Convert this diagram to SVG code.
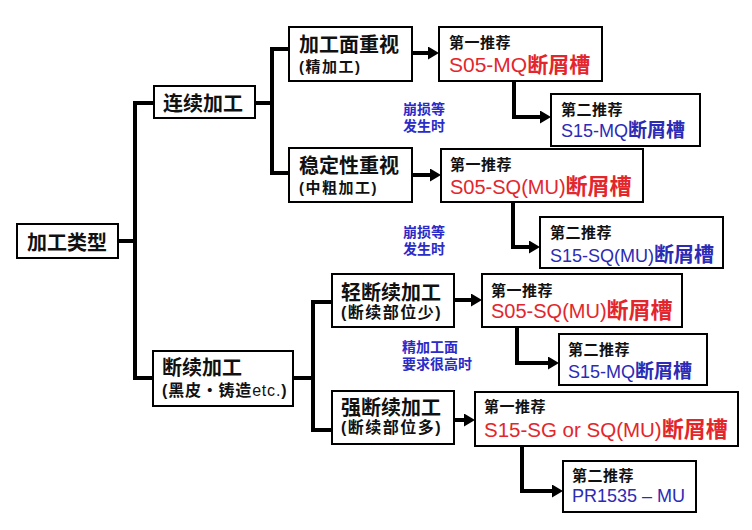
<svg xmlns="http://www.w3.org/2000/svg" width="752" height="530" viewBox="0 0 752 530">
<style>
.box{fill:#fff;stroke:#000;stroke-width:2}
.con{fill:none;stroke:#000;stroke-width:4;stroke-linejoin:miter}
text{font-family:"Liberation Sans","Noto Sans CJK SC",sans-serif}
.h{font-size:20px;font-weight:bold;fill:#111}
.s{font-size:15px;font-weight:bold;fill:#111;letter-spacing:1.5px}
.lab{font-size:15px;font-weight:bold;fill:#111;letter-spacing:0.5px}
.red{fill:#e3262c;font-size:20px}
.blue{fill:#2b2bb5;font-size:18px}
.cj{font-weight:bold}
.note{font-size:14px;font-weight:bold;fill:#2b2bc8}
</style>
<defs>
<marker id="arrow" markerUnits="userSpaceOnUse" markerWidth="11" markerHeight="13" viewBox="0 0 11 13" refX="3" refY="6.5" orient="auto">
<path d="M0,0 L11,6.5 L0,13 z" fill="#000"/>
</marker>
</defs>
<rect width="752" height="530" fill="#fff"/>
<g id="connectors">
<path class="con" d="M118,241 H135"/>
<path class="con" d="M154,103 H135 V378 H153"/>
<path class="con" d="M255,103 H272"/>
<path class="con" d="M289,49 H272 V173 H289"/>
<path class="con" d="M293,378 H313"/>
<path class="con" d="M332,302 H313 V430 H332"/>
<path class="con" d="M412,53 H431" marker-end="url(#arrow)"/>
<path class="con" d="M412,175 H433" marker-end="url(#arrow)"/>
<path class="con" d="M454,300 H474" marker-end="url(#arrow)"/>
<path class="con" d="M454,420 H467" marker-end="url(#arrow)"/>
<path class="con" d="M514,81 V117 H543" marker-end="url(#arrow)"/>
<path class="con" d="M513,202 V247 H532" marker-end="url(#arrow)"/>
<path class="con" d="M517,327 V363 H551" marker-end="url(#arrow)"/>
<path class="con" d="M522,446 V491 H555" marker-end="url(#arrow)"/>
</g>
<g id="n-type">
<rect class="box" x="17" y="224" width="101" height="34"/>
<text class="h" x="27" y="250">加工类型</text>
</g>
<g id="n-cont">
<rect class="box" x="154" y="86" width="101" height="32"/>
<text class="h" x="163" y="111">连续加工</text>
</g>
<g id="n-surface">
<rect class="box" x="289" y="27" width="123" height="54"/>
<text class="h" x="299" y="52">加工面重视</text>
<text class="s" x="299" y="72">(精加工)</text>
</g>
<g id="n-stable">
<rect class="box" x="289" y="148" width="123" height="54"/>
<text class="h" x="299" y="173">稳定性重视</text>
<text class="s" x="299" y="193">(中粗加工)</text>
</g>
<g id="n-inter">
<rect class="box" x="153" y="351" width="140" height="55"/>
<text class="h" x="162" y="375">断续加工</text>
<text class="s" x="162" y="396" style="letter-spacing:0.8px;font-size:16px">(黑皮・铸造<tspan font-weight="normal">etc.</tspan>)</text>
</g>
<g id="n-light">
<rect class="box" x="332" y="274" width="122" height="53"/>
<text class="h" x="341" y="300">轻断续加工</text>
<text class="s" x="341" y="318" style="font-size:16px">(断续部位少)</text>
</g>
<g id="n-heavy">
<rect class="box" x="332" y="391" width="122" height="53"/>
<text class="h" x="341" y="415">强断续加工</text>
<text class="s" x="341" y="433" style="font-size:16px">(断续部位多)</text>
</g>
<g id="r1">
<rect class="box" x="439" y="27" width="163" height="54"/>
<text class="lab" x="449" y="48">第一推荐</text>
<text class="red" x="449" y="72" style="font-size:21px">S05-MQ<tspan class="cj">断屑槽</tspan></text>
</g>
<g id="r2">
<rect class="box" x="551" y="94" width="149" height="52"/>
<text class="lab" x="561" y="115">第二推荐</text>
<text class="blue" x="561" y="137">S15-MQ<tspan class="cj" font-size="19">断屑槽</tspan></text>
</g>
<g id="r3">
<rect class="box" x="441" y="149" width="202" height="53"/>
<text class="lab" x="450" y="170">第一推荐</text>
<text class="red" x="450" y="194">S05-SQ(MU)<tspan class="cj" font-size="22">断屑槽</tspan></text>
</g>
<g id="r4">
<rect class="box" x="540" y="217" width="183" height="51"/>
<text class="lab" x="550" y="238">第二推荐</text>
<text class="blue" x="550" y="262">S15-SQ(MU)<tspan class="cj" font-size="20">断屑槽</tspan></text>
</g>
<g id="r5">
<rect class="box" x="482" y="274" width="200" height="53"/>
<text class="lab" x="491" y="296">第一推荐</text>
<text class="red" x="491" y="318">S05-SQ(MU)<tspan class="cj" font-size="22">断屑槽</tspan></text>
</g>
<g id="r6">
<rect class="box" x="559" y="334" width="148" height="51"/>
<text class="lab" x="568" y="355">第二推荐</text>
<text class="blue" x="568" y="378">S15-MQ<tspan class="cj" font-size="19">断屑槽</tspan></text>
</g>
<g id="r7">
<rect class="box" x="475" y="392" width="263" height="54"/>
<text class="lab" x="484" y="412">第一推荐</text>
<text class="red" x="484" y="437" style="font-size:20.5px">S15-SG or SQ(MU)<tspan class="cj" font-size="22">断屑槽</tspan></text>
</g>
<g id="r8">
<rect class="box" x="563" y="461" width="133" height="51"/>
<text class="lab" x="572" y="481">第二推荐</text>
<text class="blue" x="572" y="502">PR1535 – MU</text>
</g>
<g id="notes">
<text class="note" x="403" y="114">崩损等</text>
<text class="note" x="403" y="131">发生时</text>
<text class="note" x="403" y="237">崩损等</text>
<text class="note" x="403" y="254">发生时</text>
<text class="note" x="402" y="352">精加工面</text>
<text class="note" x="402" y="369">要求很高时</text>
</g>
</svg>
